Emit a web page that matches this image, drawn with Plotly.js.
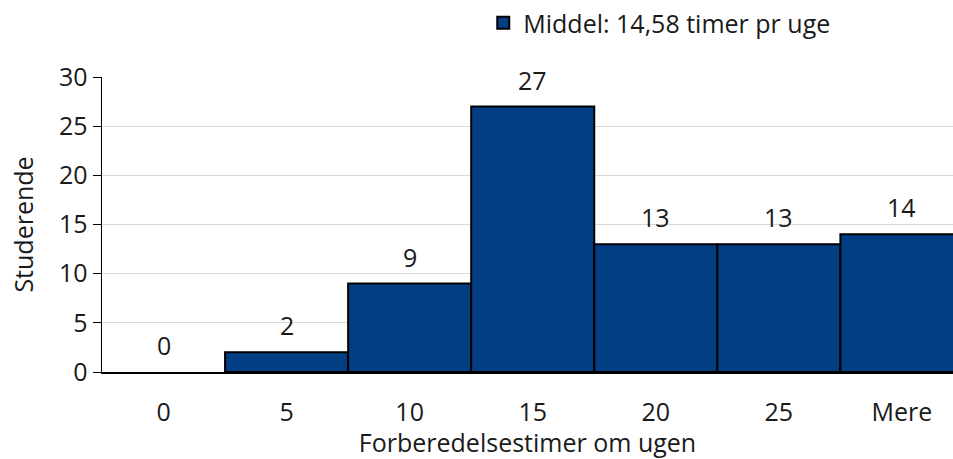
<!DOCTYPE html>
<html>
<head>
<meta charset="utf-8">
<script src="https://cdn.plot.ly/plotly-3.0.1.min.js"></script>
<style>html,body{margin:0;padding:0;background:#fff;}#chart{width:953px;height:459px;}</style>
</head>
<body>
<div id="chart"></div>
<script>
const categories = ["0", "5", "10", "15", "20", "25", "Mere"];
const students = [0, 2, 9, 27, 13, 13, 14];
const seriesName = "Middel: 14,58 timer pr uge";
const xTitle = "Forberedelsestimer om ugen";
const yTitle = "Studerende";

const FONT = "'Open Sans', Lato, sans-serif";
const TXT = "#1a1a1a";
const FS = 25;
const BAR = "#023E84";

const bars = {
  type: "bar",
  x: categories,
  y: students,
  name: seriesName,
  showlegend: false,
  marker: {color: BAR, line: {color: "#000000", width: students.map(v => v > 0 ? 2 : 0)}},
  hoverinfo: "x+y"
};

// legend entry for the same series (keeps the black outline on the legend swatch)
const legendEntry = {
  type: "bar",
  x: categories,
  y: categories.map(() => null),
  name: seriesName,
  showlegend: true,
  marker: {color: BAR, line: {color: "#000000", width: 2}},
  hoverinfo: "skip"
};

const annotations = categories.map((c, i) => ({
  x: i, y: students[i], xref: "x", yref: "y",
  text: String(students[i]), showarrow: false,
  yshift: 27, font: {family: FONT, size: FS, color: TXT}
}));

const layout = {
  width: 953, height: 459,
  margin: {l: 102, r: 0, t: 75, b: 87},
  paper_bgcolor: "#fff", plot_bgcolor: "#fff",
  font: {family: FONT, size: FS, color: TXT},
  bargap: 0, barmode: "overlay",
  showlegend: true,
  legend: {orientation: "h", x: 0.448, xanchor: "left", y: 1.185, yanchor: "middle",
           font: {family: FONT, size: FS, color: TXT}, bgcolor: "rgba(0,0,0,0)"},
  xaxis: {
    type: "category", range: [-0.5, 6.415],
    showline: true, linecolor: "#000", linewidth: 1.5,
    ticks: "", showgrid: false, zeroline: false,
    ticklabelstandoff: 17,
    tickfont: {family: FONT, size: FS, color: TXT},
    title: {text: xTitle, font: {family: FONT, size: FS, color: TXT}, standoff: 9}
  },
  yaxis: {
    range: [0, 30], dtick: 5, tick0: 0,
    showline: true, linecolor: "#000", linewidth: 1.5,
    ticks: "outside", ticklen: 8, tickcolor: "#000", tickwidth: 1,
    showgrid: true, gridcolor: "#d9d9d9", gridwidth: 1, zeroline: false,
    tickfont: {family: FONT, size: FS, color: TXT},
    title: {text: yTitle, font: {family: FONT, size: FS, color: TXT}, standoff: 18}
  },
  annotations: annotations
};

Plotly.newPlot("chart", [bars, legendEntry], layout, {displayModeBar: false, staticPlot: true});
</script>
</body>
</html>
